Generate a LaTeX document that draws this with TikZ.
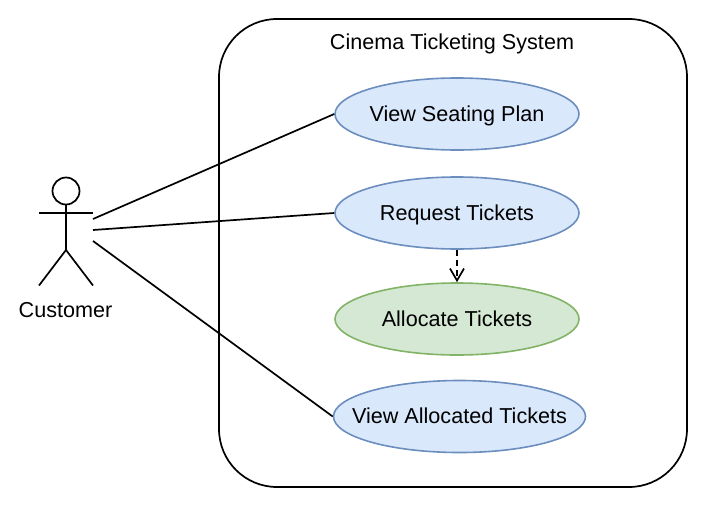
\documentclass[tikz,border=0pt]{standalone}
\usepackage{fontspec}
\setmainfont{Liberation Sans}
\usetikzlibrary{arrows.meta}
\usetikzlibrary{shapes.geometric}
\definecolor{usefill}{HTML}{DAE8FC}
\definecolor{usedraw}{HTML}{6C8EBF}
\definecolor{greenfill}{HTML}{D5E8D4}
\definecolor{greendraw}{HTML}{82B366}
\tikzset{x=1pt, y=-1pt,
  use case/.style={ellipse, draw=usedraw, fill=usefill, line width=1.6pt, inner xsep=-40pt, inner ysep=-10pt,
     minimum width=244pt, minimum height=72pt,
     font=\fontsize{21.6}{25}\selectfont, text=black, text height=16pt, text depth=2pt},
  assoc/.style={draw=black, line width=1.7pt}
}
\begin{document}
\begin{tikzpicture}
\useasboundingbox (0,0) rectangle (706,506);
\fill[white] (0,0) rectangle (706,506);
% system boundary
\node (System) [draw=black, line width=1.7pt, rounded corners=58pt, minimum width=468pt, minimum height=468pt, inner sep=0pt] at (453,253) {};
\node (SystemTitle) [font=\fontsize{21.6}{25}\selectfont] at (452,43.5) {Cinema Ticketing System};
% use cases
\node (Seating) [use case] at (457,114) {View Seating Plan};
\node (Request) [use case] at (457,213) {Request Tickets};
\node (Allocate) [use case, draw=greendraw, fill=greenfill] at (457,319) {Allocate Tickets};
\node (Allocated) [use case, minimum width=252pt] at (459.5,416.5) {View Allocated Tickets};
% actor
\node (Head) [circle, draw=black, line width=1.7pt, minimum size=27pt, inner sep=0pt] at (66,191) {};
\coordinate (Hip) at (66,250);
\coordinate (ArmL) at (39,213);
\coordinate (ArmR) at (93,213);
\coordinate (FootL) at (39,285.5);
\coordinate (FootR) at (93,285.5);
\draw[assoc] (Head.south) -- (Hip);
\draw[assoc] (ArmL) -- (ArmR);
\draw[assoc] (FootL) -- (Hip) -- (FootR);
\node (Customer) [font=\fontsize{21.6}{25}\selectfont] at (65.5,310) {Customer};
% connectors
\coordinate (A1) at (93,219);
\coordinate (A2) at (93,230);
\coordinate (A3) at (93,241);
\draw[assoc] (A1) -- (Seating.west);
\draw[assoc] (A2) -- (Request.west);
\draw[assoc] (A3) -- (Allocated.west);
\draw[assoc, dash pattern=on 6pt off 4pt, -{Straight Barb[length=12pt,width=14pt]}] (Request.south) -- (Allocate.north);
\end{tikzpicture}
\end{document}
